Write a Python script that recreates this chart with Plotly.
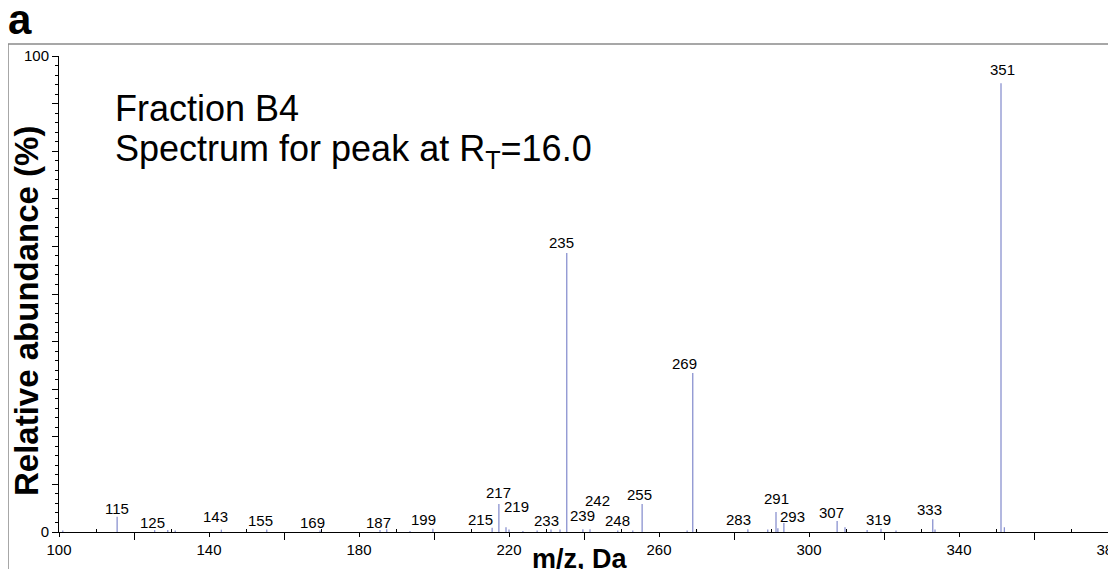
import plotly.graph_objects as go

# ---------------- data ----------------
mz = [101.0, 115.5, 125.5, 129.0, 131.0, 143.3, 155.4, 169.6, 185.6, 187.4,
      193.6, 199.7, 215.5, 217.3, 219.2, 220.0, 223.7, 227.5, 231.2, 233.6,
      235.4, 239.7, 241.6, 249.0, 253.0, 255.5, 267.5, 269.0, 270.0, 283.7,
      289.0, 291.2, 291.7, 293.3, 307.5, 309.6, 315.5, 319.2, 323.2, 333.0,
      333.6, 351.2, 352.1]
intensity = [0.3, 3.2, 0.4, 0.4, 0.3, 0.5, 0.5, 0.3, 0.4, 0.6,
             0.2, 0.7, 0.9, 5.9, 1.0, 0.5, 0.2, 0.3, 0.5, 0.5,
             58.6, 0.6, 0.6, 0.3, 0.3, 5.9, 0.3, 33.4, 0.5, 0.6,
             0.5, 4.2, 0.8, 1.9, 2.3, 1.0, 0.4, 0.7, 0.3, 2.7,
             0.5, 94.3, 1.0]
peak_labels = ["115", "125", "143", "155", "169", "187", "199", "215", "217", "219",
               "233", "235", "239", "242", "248", "255", "269", "283", "291", "293",
               "307", "319", "333", "351"]
x_tick_labels = ["100", "140", "180", "220", "260", "300", "340", "380"]
y_tick_labels = ["0", "100"]

# ---------------- label placement (layout only) ----------------
label_place = {
    "115": (115.5, 5.0), "125": (124.8, 2.1), "143": (141.6, 3.2), "155": (153.6, 2.5),
    "169": (167.7, 2.1), "187": (185.1, 2.1), "199": (197.3, 2.7), "215": (212.3, 2.7),
    "217": (217.3, 8.2), "219": (222.1, 5.3), "233": (230.1, 2.5), "235": (234.1, 60.9),
    "239": (239.5, 3.4), "242": (243.7, 6.7), "248": (248.8, 2.5), "255": (254.9, 7.8),
    "269": (266.9, 35.5), "283": (281.1, 2.7), "291": (291.2, 7.1), "293": (295.5, 3.2),
    "307": (306.1, 4.0), "319": (318.4, 2.7), "333": (332.0, 4.8), "351": (351.7, 97.1),
}

# page is rendered with the default 8px body margin
OFF = 8
W, H = 1116 - OFF, 569 - OFF
ML, MR, MT, MB = 59 - OFF, 7, 56 - OFF, 37
PW, PH = W - ML - MR, H - MT - MB


def px(xp):  # page pixel -> paper x
    return (xp - OFF - ML) / PW


def py(yp):  # page pixel -> paper y
    return 1 - (yp - OFF - MT) / PH


# stems
sx, sy = [], []
for m, h in zip(mz, intensity):
    sx += [m, m, None]
    sy += [0, h, None]

fig = go.Figure()
fig.add_trace(go.Scatter(x=sx, y=sy, mode="lines",
                         line=dict(color="rgb(138,146,208)", width=1.3),
                         hoverinfo="skip", showlegend=False))
fig.add_trace(go.Scatter(x=[100, 380], y=[0, 0], mode="lines", xaxis="x2",
                         line=dict(color="rgba(0,0,0,0)"), hoverinfo="skip",
                         showlegend=False))

FONT = "Liberation Sans, Arial, sans-serif"

for lab in peak_labels:
    x0, y0 = label_place[lab]
    fig.add_annotation(x=x0, y=y0, xref="x", yref="y", text=lab, showarrow=False,
                       font=dict(family=FONT, size=15, color="black"),
                       xanchor="center", yanchor="middle")

# big texts
fig.add_annotation(x=px(113), y=py(108), xref="paper", yref="paper",
                   text="Fraction B4", showarrow=False, xanchor="left", yanchor="middle",
                   font=dict(family=FONT, size=36, color="black"))
fig.add_annotation(x=px(113), y=py(151), xref="paper", yref="paper",
                   text="Spectrum for peak at R<sub>T</sub>=16.0", showarrow=False,
                   xanchor="left", yanchor="middle",
                   font=dict(family=FONT, size=36, color="black"))
fig.add_annotation(x=px(20), y=py(45), xref="paper", yref="paper", text="<b>a</b>",
                   showarrow=False, xanchor="center", yanchor="bottom",
                   font=dict(family=FONT, size=42, color="black"))
fig.add_annotation(x=px(26), y=py(311), xref="paper", yref="paper",
                   text="<b>Relative abundance (%)</b>", showarrow=False, textangle=-90,
                   xanchor="center", yanchor="middle",
                   font=dict(family=FONT, size=33, color="black"))
fig.add_annotation(x=px(580), y=py(559), xref="paper", yref="paper",
                   text="<b>m/z, Da</b>", showarrow=False, xanchor="center",
                   yanchor="middle", font=dict(family=FONT, size=27, color="black"))

# frame
fig.add_shape(type="rect", xref="paper", yref="paper", x0=px(8), x1=px(1130),
              y0=py(600), y1=py(44), line=dict(color="#8a8a8a", width=1.5), layer="below")

x_major = [int(v) for v in x_tick_labels]
y_vals = list(range(0, 101, 10))
y_text = [y_tick_labels[0]] + [""] * 9 + [y_tick_labels[1]]

fig.update_layout(
    width=W, height=H,
    margin=dict(l=ML, r=MR, t=MT, b=MB, autoexpand=False),
    paper_bgcolor="white", plot_bgcolor="white",
    font=dict(family=FONT, size=15, color="black"),
    xaxis=dict(range=[100, 380], tickmode="array", tickvals=x_major, ticktext=x_tick_labels,
               ticks="outside", ticklen=4, tickcolor="black", tickwidth=1,
               showline=True, linecolor="black", linewidth=1.3, showgrid=False,
               zeroline=False, tickfont=dict(size=15), automargin=False,
               ticklabeloverflow="allow",
               minor=dict(tickmode="array", tickvals=list(range(110, 380, 20)),
                          ticks="inside", ticklen=3, tickcolor="black", showgrid=False)),
    xaxis2=dict(range=[100, 380], overlaying="x", anchor="y", side="bottom",
                tickmode="array", tickvals=list(range(120, 380, 40)),
                ticktext=[""] * 7, ticks="outside", ticklen=7, tickcolor="black",
                showline=False, showgrid=False, zeroline=False, automargin=False),
    yaxis=dict(range=[0, 100], tickmode="array", tickvals=y_vals, ticktext=y_text,
               ticks="outside", ticklen=6, tickcolor="black", tickwidth=1,
               showline=True, linecolor="black", linewidth=1, showgrid=False,
               zeroline=False, tickfont=dict(size=15), automargin=False,
               ticklabeloverflow="allow",
               minor=dict(dtick=2, tick0=0, ticks="outside", ticklen=3,
                          tickcolor="black", showgrid=False)),
)

fig.write_html("out.html")
